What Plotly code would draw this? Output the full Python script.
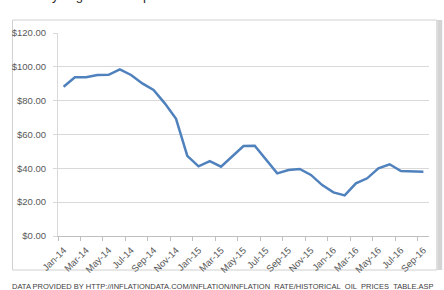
import plotly.graph_objects as go

months = ["Jan-14","Feb-14","Mar-14","Apr-14","May-14","Jun-14","Jul-14","Aug-14","Sep-14","Oct-14","Nov-14","Dec-14",
          "Jan-15","Feb-15","Mar-15","Apr-15","May-15","Jun-15","Jul-15","Aug-15","Sep-15","Oct-15","Nov-15","Dec-15",
          "Jan-16","Feb-16","Mar-16","Apr-16","May-16","Jun-16","Jul-16","Aug-16","Sep-16"]
prices = [88.2, 93.8, 93.8, 95.2, 95.3, 98.5, 95.2, 90.2, 86.3, 78.4, 69.3, 47.4,
          41.2, 44.3, 41.0, 47.2, 53.2, 53.4, 45.3, 37.0, 39.0, 39.6, 36.1, 30.1,
          25.8, 24.0, 31.1, 34.1, 40.0, 42.4, 38.4, 38.4, 38.0]
title_text = "Monthly avg. crude oil prices"
source_text = "DATA PROVIDED BY HTTP://INFLATIONDATA.COM/INFLATION/INFLATION_RATE/HISTORICAL_OIL_PRICES_TABLE.ASP"

x_idx = list(range(len(months)))

W, H = 444, 290
L, R, T, B = 50, 15, 33, 54
pw, ph = W - L - R, H - T - B

def px(xp):
    return (xp - L) / pw

def py(yp):
    return (H - B - yp) / ph

fig = go.Figure()
fig.add_trace(go.Scatter(x=x_idx, y=prices, mode="lines",
                         line=dict(color="#4f81bd", width=2.5), hoverinfo="skip"))

font_family = "Liberation Sans, Arial, sans-serif"

fig.update_layout(
    width=W, height=H,
    margin=dict(l=L, r=R, t=T, b=B, pad=0),
    paper_bgcolor="white", plot_bgcolor="white",
    showlegend=False,
    font=dict(family=font_family, color="#595959", size=9.5),
    xaxis=dict(
        range=[-0.5, len(months) - 0.5],
        tickmode="array", tickvals=x_idx[::2], ticktext=months[::2],
        tickangle=-45, ticks="", ticklen=0,
        showgrid=False, zeroline=False,
        showline=True, linecolor="#bfbfbf", linewidth=1,
        tickfont=dict(size=9.5, color="#595959"),
        ticklabelstandoff=4,
        minor=dict(tickmode="array", tickvals=[i - 0.5 for i in x_idx[::2]],
                   ticks="outside", ticklen=4, tickcolor="#bfbfbf", tickwidth=1, showgrid=False),
        fixedrange=True,
    ),
    yaxis=dict(
        range=[0, 120], tickmode="linear", tick0=0, dtick=20,
        tickprefix="$", tickformat=".2f",
        ticks="outside", ticklen=4, tickcolor="#d9d9d9",
        showgrid=True, gridcolor="#d9d9d9", gridwidth=1,
        zeroline=False, showline=True, linecolor="#d9d9d9", linewidth=1,
        tickfont=dict(size=9.5, color="#595959"),
        ticklabelstandoff=5,
        fixedrange=True,
    ),
    shapes=[
        dict(type="rect", xref="paper", yref="paper",
             x0=px(3.5), x1=px(437), y0=py(270), y1=py(20),
             line=dict(color="#d0d0d0", width=1), fillcolor="rgba(0,0,0,0)", layer="below"),
        dict(type="rect", xref="paper", yref="paper",
             x0=px(437.5), x1=px(442.5), y0=py(270), y1=py(20),
             line=dict(width=0), fillcolor="#d4d4d4", layer="below"),
    ],
    annotations=[
        dict(text=title_text, xref="paper", yref="paper", x=px(2), y=py(5),
             xanchor="left", yanchor="bottom", showarrow=False,
             font=dict(size=13, color="#262626", family=font_family)),
        dict(text=source_text, xref="paper", yref="paper", x=px(1), y=py(280),
             xanchor="left", yanchor="top", showarrow=False,
             font=dict(size=7.5, color="#404040", family=font_family)),
    ],
)

fig.write_html("out.html")
